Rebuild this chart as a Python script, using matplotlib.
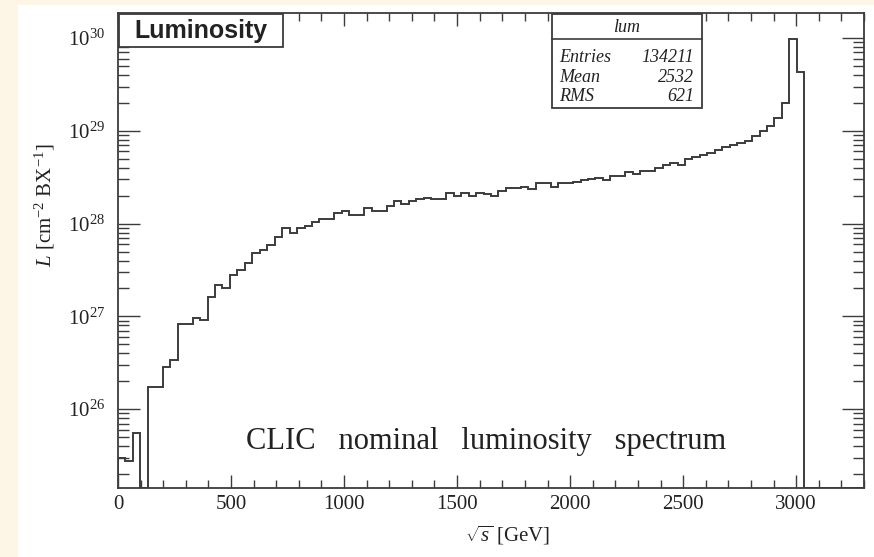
import numpy as np
from matplotlib import pyplot as plt
from matplotlib.patches import Rectangle
from matplotlib.lines import Line2D
from matplotlib.ticker import LogLocator, MultipleLocator, NullFormatter

# Histogram: 100 bins of 33 GeV from 0 to 3300 GeV
bin_edges = np.linspace(0, 3300, 101)

# luminosity per bin [cm^-2 BX^-1]
lum = [
    2.98e25, 2.77e25, 5.55e25, 0.0, 1.73e26, 1.73e26, 2.85e26, 3.39e26, 8.28e26, 8.28e26,
    9.62e26, 9.14e26, 1.62e27, 2.18e27, 2.02e27, 2.79e27, 3.16e27, 3.76e27, 4.82e27, 5.20e27,
    5.87e27, 7.18e27, 8.97e27, 7.93e27, 8.97e27, 9.42e27, 1.04e28, 1.12e28, 1.12e28, 1.30e28,
    1.37e28, 1.24e28, 1.24e28, 1.47e28, 1.37e28, 1.37e28, 1.55e28, 1.75e28, 1.63e28, 1.75e28,
    1.84e28, 1.89e28, 1.84e28, 1.84e28, 2.14e28, 1.98e28, 2.14e28, 1.98e28, 2.14e28, 2.08e28,
    1.98e28, 2.24e28, 2.42e28, 2.42e28, 2.48e28, 2.36e28, 2.74e28, 2.74e28, 2.48e28, 2.74e28,
    2.74e28, 2.81e28, 2.95e28, 3.03e28, 3.10e28, 2.95e28, 3.26e28, 3.26e28, 3.60e28, 3.42e28,
    3.69e28, 3.69e28, 3.97e28, 4.28e28, 4.50e28, 4.28e28, 4.97e28, 5.22e28, 5.48e28, 5.77e28,
    6.21e28, 6.68e28, 7.03e28, 7.40e28, 7.76e28, 8.79e28, 9.95e28, 1.13e29, 1.37e29, 2.00e29,
    9.75e29, 4.31e29, 0.0, 0.0, 0.0, 0.0, 0.0, 0.0, 0.0, 0.0,
]

stats_labels = ['Entries', 'Mean', 'RMS']
stats_values = ['134211', '2532', '621']

W, H = 874, 557


def fx(x):
    return x / W


def fy(y):
    return 1 - y / H


plt.rcParams['font.family'] = 'Liberation Serif'
plt.rcParams['mathtext.fontset'] = 'custom'
plt.rcParams['mathtext.rm'] = 'Liberation Serif'
plt.rcParams['mathtext.it'] = 'Liberation Serif:italic'

line_col = '#3c3c3c'
txt_col = '#222222'

fig = plt.figure(figsize=(W / 100, H / 100), dpi=100)
fig.patch.set_facecolor('#fdf5e6')
fig.add_artist(Rectangle((fx(18), 0), 1 - fx(18), fy(5), transform=fig.transFigure,
                         facecolor='white', edgecolor='none', zorder=0))

ax = fig.add_axes([fx(118), fy(488), (864 - 118) / W, (488 - 13) / H])
ax.set_facecolor('white')

ymin, ymax = 10 ** 25.15, 10 ** 30.27
vals = np.array(lum)
vals = np.where(vals > 0, vals, ymin)
ax.stairs(vals, bin_edges, baseline=ymin, color=line_col, lw=1.4)

ax.set_yscale('log')
ax.set_xlim(0, 3300)
ax.set_ylim(ymin, ymax)

ax.xaxis.set_major_locator(MultipleLocator(500))
ax.xaxis.set_minor_locator(MultipleLocator(100))
ax.yaxis.set_major_locator(LogLocator(base=10, numticks=10))
ax.yaxis.set_minor_locator(LogLocator(base=10, subs=np.arange(2, 10), numticks=20))
ax.yaxis.set_minor_formatter(NullFormatter())

ax.tick_params(axis='both', which='both', direction='in', top=True, right=True,
               color=line_col, width=1.0, labelcolor=txt_col, labelsize=15)
ax.tick_params(axis='x', which='major', length=9.5, pad=5)
ax.tick_params(axis='x', which='minor', length=5.5)
ax.tick_params(axis='y', which='major', length=15.5, pad=9)
ax.tick_params(axis='y', which='minor', length=8)
for s in ax.spines.values():
    s.set_color(line_col)
    s.set_linewidth(1.3)

# axis titles
fig.text(fx(508), fy(535), r'$\sqrt{s}$ [GeV]', ha='center', va='center',
         fontsize=15, color=txt_col)
fig.text(fx(45), fy(205), r'$L$ [cm$^{-2}$ BX$^{-1}$]', ha='center', va='center',
         rotation=90, fontsize=15, color=txt_col)

# title box
fig.add_artist(Rectangle((fx(119), fy(47)), (283 - 119) / W, (47 - 14) / H,
                         transform=fig.transFigure, facecolor='white',
                         edgecolor=line_col, lw=1.3, zorder=5))
fig.text(fx(201), fy(31), 'Luminosity', ha='center', va='center', fontsize=18,
         fontweight='bold', family='Liberation Sans', color=txt_col, zorder=6)

# stats box
fig.add_artist(Rectangle((fx(552), fy(108)), (702 - 552) / W, (108 - 14) / H,
                         transform=fig.transFigure, facecolor='white',
                         edgecolor=line_col, lw=1.3, zorder=5))
fig.add_artist(Line2D([fx(552), fx(702)], [fy(39), fy(39)], transform=fig.transFigure,
                      color=line_col, lw=1.2, zorder=6))
fig.text(fx(627), fy(27), 'lum', ha='center', va='center', fontsize=13,
         style='italic', color=txt_col, zorder=6)
for i, (lab, v) in enumerate(zip(stats_labels, stats_values)):
    yy = 58 + i * 19
    fig.text(fx(559), fy(yy), lab, ha='left', va='center', fontsize=13,
             style='italic', color=txt_col, zorder=6)
    fig.text(fx(694), fy(yy), v, ha='right', va='center', fontsize=13,
             style='italic', color=txt_col, zorder=6)

fig.text(fx(486), fy(442), 'CLIC   nominal   luminosity   spectrum', ha='center',
         va='center', fontsize=22, color=txt_col)

fig.savefig('out.png', dpi=100)
